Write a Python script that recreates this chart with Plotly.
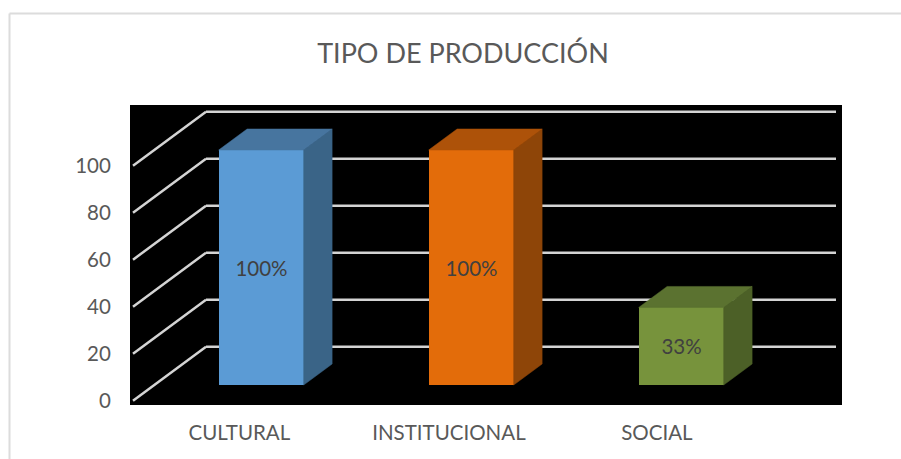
import plotly.graph_objects as go

# Data
categories = ["CULTURAL", "INSTITUCIONAL", "SOCIAL"]
values = [100, 100, 33]
value_labels = ["100%", "100%", "33%"]
y_ticks = [0, 20, 40, 60, 80, 100]
title_text = "TIPO DE PRODUCCIÓN"

# Style
front_colors = ["#5B9BD5", "#E36C0A", "#77933C"]
top_colors = ["#47759F", "#AD5209", "#5B7230"]
side_colors = ["#3A6487", "#8E4508", "#4C6027"]
grid_color = "#D4D4D4"
text_color = "#595959"
frame_color = "#DCDCDC"

W, H = 901, 459
L, R, T, B = 130, 842, 105, 405      # plot box in page pixels
X0_PX, X_PX = 240.0, 210.0           # pixel of category 0, pixels per category
Y0_PX, Y_PX = 400.7, 2.35            # pixel of value 0, pixels per value unit
positions = list(range(len(categories)))
tick_positions = [-0.003, 0.995, 1.985]

x_range = [(L - X0_PX) / X_PX, (R - X0_PX) / X_PX]
y_range = [(Y0_PX - B) / Y_PX, (Y0_PX - T) / Y_PX]

# Oblique projection: depth fraction -> shift in data units
DX = 73 / X_PX
DY = 54 / Y_PX
FLOOR_X = (133 - X0_PX) / X_PX
GRID_END = (836 - X0_PX) / X_PX
BAR_W = 85 / X_PX
D1, D2 = 0.29, 0.68                  # bar front / back depth


def sx(x, d):
    return x + DX * d


def sy(y, d):
    return y + DY * d


shapes = []
for v in y_ticks:
    shapes.append(dict(type="line", xref="x", yref="y", layer="below",
                       x0=FLOOR_X, y0=v, x1=sx(FLOOR_X, 1), y1=sy(v, 1),
                       line=dict(color=grid_color, width=2.5)))
    shapes.append(dict(type="line", xref="x", yref="y", layer="below",
                       x0=sx(FLOOR_X, 1), y0=sy(v, 1), x1=GRID_END, y1=sy(v, 1),
                       line=dict(color=grid_color, width=2.5)))

# Outer chart frame (left and top edges)
fx = 9.5
fy = 13.5
shapes.append(dict(type="line", xref="paper", yref="paper",
                   x0=(fx - L) / (R - L), x1=(W - L) / (R - L),
                   y0=(B - fy) / (B - T), y1=(B - fy) / (B - T),
                   line=dict(color=frame_color, width=2)))
shapes.append(dict(type="line", xref="paper", yref="paper",
                   x0=(fx - L) / (R - L), x1=(fx - L) / (R - L),
                   y0=(B - fy) / (B - T), y1=(B - H) / (B - T),
                   line=dict(color=frame_color, width=2)))

fig = go.Figure()

# Front faces
fig.add_trace(go.Bar(
    x=[sx(p, D1) for p in positions], y=values,
    base=[sy(0, D1)] * len(values), width=BAR_W,
    marker=dict(color=front_colors, line=dict(width=0)),
    text=value_labels, textposition="inside", insidetextanchor="middle",
    textangle=0, textfont=dict(family="Lato", size=20.5, color="#404040"),
    hoverinfo="skip", showlegend=False))

# Side and top faces
for p, v, top_c, side_c in zip(positions, values, top_colors, side_colors):
    xl = p - BAR_W / 2
    xr = p + BAR_W / 2
    fig.add_trace(go.Scatter(
        x=[sx(xr, D1), sx(xr, D2), sx(xr, D2), sx(xr, D1), sx(xr, D1)],
        y=[sy(0, D1), sy(0, D2), sy(v, D2), sy(v, D1), sy(0, D1)],
        mode="lines", fill="toself", fillcolor=side_c,
        line=dict(color=side_c, width=0.5), hoverinfo="skip", showlegend=False))
    fig.add_trace(go.Scatter(
        x=[sx(xl, D1), sx(xr, D1), sx(xr, D2), sx(xl, D2), sx(xl, D1)],
        y=[sy(v, D1), sy(v, D1), sy(v, D2), sy(v, D2), sy(v, D1)],
        mode="lines", fill="toself", fillcolor=top_c,
        line=dict(color=top_c, width=0.5), hoverinfo="skip", showlegend=False))

fig.update_layout(
    width=W, height=H,
    margin=dict(l=L, r=W - R, t=T, b=H - B, pad=0),
    paper_bgcolor="white", plot_bgcolor="black",
    font=dict(family="Lato", color=text_color),
    title=dict(text=title_text, x=463 / W, xanchor="center", xref="container",
               y=1 - 54 / H, yanchor="middle", yref="container",
               font=dict(family="Lato", size=27, color=text_color)),
    xaxis=dict(range=x_range, tickmode="array", tickvals=tick_positions,
               ticktext=categories, showgrid=False, zeroline=False, showline=False,
               ticks="outside", ticklen=9, tickcolor="rgba(0,0,0,0)",
               tickfont=dict(family="Lato", size=20.5, color=text_color)),
    yaxis=dict(range=y_range, tickmode="array", tickvals=y_ticks,
               showgrid=False, zeroline=False, showline=False,
               ticks="outside", ticklen=14, tickcolor="rgba(0,0,0,0)",
               tickfont=dict(family="Lato", size=20.5, color=text_color)),
    shapes=shapes,
    bargap=0,
)

fig.write_html("out.html", config={"displayModeBar": False},
               post_script="document.body.style.margin='0';")
